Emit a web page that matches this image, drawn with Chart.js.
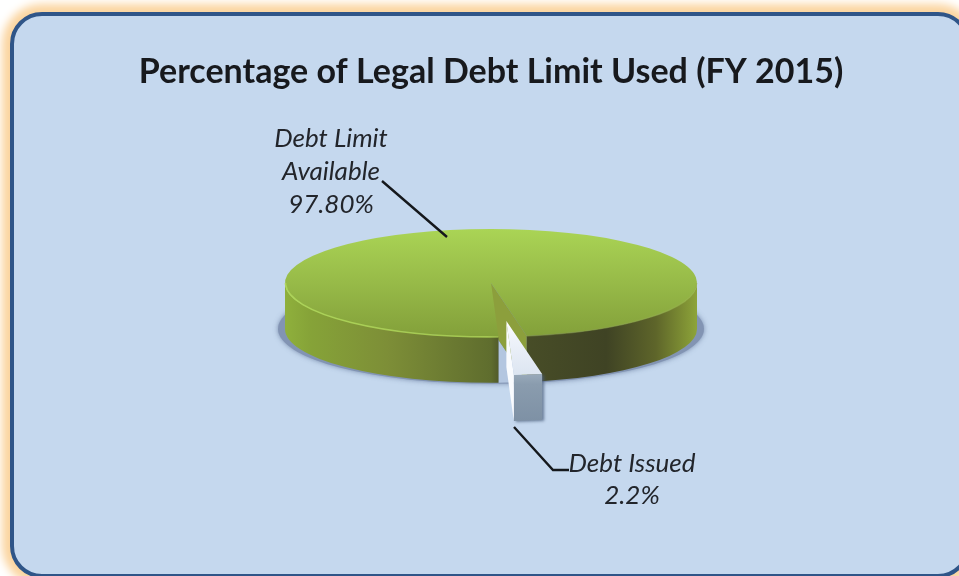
<!DOCTYPE html>
<html>
<head>
<meta charset="utf-8">
<title>Percentage of Legal Debt Limit Used</title>
<script src="https://cdn.jsdelivr.net/npm/chart.js@4"></script>
<style>
  html, body { margin: 0; padding: 0; background: #fff; overflow: hidden; }
  #wrap { position: relative; width: 959px; height: 576px; overflow: hidden; }
  #panel {
    position: absolute; left: 10px; top: 12px; width: 952px; height: 558px;
    border: 4px solid #2f5588; border-radius: 32px; background: #c5d8ee;
    box-shadow: 0 0 9px 8px #fbd5a0;
  }
  canvas { position: absolute; left: 0; top: 0; }
</style>
</head>
<body>
<div id="wrap">
  <div id="panel"></div>
  <canvas id="debtChart" width="959" height="576"></canvas>
</div>
<script>
// Data
const categories = ['Debt Issued', 'Debt Limit Available'];
const percentages = [2.2, 97.8];
const titleText = 'Percentage of Legal Debt Limit Used (FY 2015)';
const issuedLabel = ['Debt Issued', '2.2%'];
const availableLabel = ['Debt Limit', 'Available', '97.80%'];

// Fake 3D settings
const squash = 0.262;
const depth = 46;
const explode = 146;

function topGradient(ctx, y0, y1, stops) {
  const g = ctx.createLinearGradient(0, y0, 0, y1);
  stops.forEach(s => g.addColorStop(s[0], s[1]));
  return g;
}

// screen position of a slice centre; the pie is flattened around baseY
function centerOf(el, baseY) {
  return { x: el.x, y: baseY + (el.y - baseY) * squash };
}

function rim(el, baseY, angle, drop) {
  const c = centerOf(el, baseY);
  return {
    x: c.x + Math.cos(angle) * el.outerRadius,
    y: c.y + drop + Math.sin(angle) * el.outerRadius * squash
  };
}

function wall(ctx, el, baseY, a0, a1, fill) {
  const c = centerOf(el, baseY);
  const rx = el.outerRadius;
  const ry = el.outerRadius * squash;
  ctx.beginPath();
  ctx.ellipse(c.x, c.y, rx, ry, 0, a0, a1);
  ctx.ellipse(c.x, c.y + depth, rx, ry, 0, a1, a0, true);
  ctx.closePath();
  ctx.fillStyle = fill;
  ctx.fill();
}

function poly(ctx, pts, fill) {
  ctx.beginPath();
  pts.forEach((p, i) => i ? ctx.lineTo(p.x, p.y) : ctx.moveTo(p.x, p.y));
  ctx.closePath();
  ctx.fillStyle = fill;
  ctx.fill();
}

const pie3d = {
  id: 'pie3d',
  // the offset option also stretches and narrows a slice, so move it here instead
  afterDatasetsUpdate(chart) {
    const issued = chart.getDatasetMeta(0).data[0];
    const mid = (issued.startAngle + issued.endAngle) / 2;
    issued.x += Math.cos(mid) * explode;
    issued.y += Math.sin(mid) * explode;
  },
  beforeDatasetsDraw(chart) {
    const ctx = chart.ctx;
    const meta = chart.getDatasetMeta(0);
    const issued = meta.data[0];
    const avail = meta.data[1];
    const R = avail.outerRadius;
    const baseY = avail.y;

    // shadow on the panel
    ctx.save();
    ctx.shadowColor = 'rgba(90,110,145,0.7)';
    ctx.shadowBlur = 5;
    ctx.fillStyle = '#8294b3';
    ctx.beginPath();
    ctx.ellipse(avail.x, baseY + depth, R + 7, R * squash + 1, 0, 0, Math.PI * 2);
    ctx.fill();
    ctx.restore();

    // green outer wall
    const side = ctx.createLinearGradient(avail.x - R, 0, avail.x + R, 0);
    side.addColorStop(0, '#8fb03c');
    side.addColorStop(0.06, '#86a338');
    side.addColorStop(0.25, '#7d8e37');
    side.addColorStop(0.5, '#5f6d2e');
    side.addColorStop(0.53, '#4a5028');
    side.addColorStop(0.78, '#3f4324');
    side.addColorStop(0.9, '#5e652a');
    side.addColorStop(0.97, '#7f9134');
    side.addColorStop(1, '#8da43a');

    // floor seen through the gap
    const a = rim(avail, baseY, avail.startAngle, 0);
    const b = rim(avail, baseY, avail.endAngle, 0);
    const aLow = rim(avail, baseY, avail.startAngle, depth);
    const bLow = rim(avail, baseY, avail.endAngle, depth);
    const apex = { x: avail.x, y: baseY };
    const apexLow = { x: avail.x, y: baseY + depth };
    poly(ctx, [apex, a, aLow, bLow, apexLow], '#b3c6e0');

    // cut face of the big slice
    poly(ctx, [apex, b, bLow, apexLow], '#8c9f3c');

    wall(ctx, avail, baseY, avail.startAngle, Math.PI, side);
    wall(ctx, avail, baseY, 0, avail.endAngle - Math.PI * 2, side);

    // exploded slice, front face then left face
    const d = rim(issued, baseY, issued.endAngle, 0);
    const dLow = rim(issued, baseY, issued.endAngle, depth);
    const tip = centerOf(issued, baseY);
    ctx.save();
    ctx.shadowColor = 'rgba(70,90,120,0.7)';
    ctx.shadowBlur = 3;
    ctx.shadowOffsetX = 2;
    ctx.shadowOffsetY = 1;
    const front = ctx.createLinearGradient(0, d.y, 0, d.y + depth);
    front.addColorStop(0, '#98a9ba');
    front.addColorStop(0.2, '#8a9cae');
    front.addColorStop(1, '#7e91a5');
    wall(ctx, issued, baseY, issued.startAngle, issued.endAngle, front);
    ctx.restore();
    poly(ctx, [tip, d, dLow, { x: tip.x, y: tip.y + depth }], '#f9fbfe');

    // everything the library draws from here on is flattened
    ctx.save();
    ctx.translate(avail.x, baseY);
    ctx.scale(1, squash);
    ctx.translate(-avail.x, -baseY);
  },
  afterDatasetsDraw(chart) {
    const ctx = chart.ctx;
    ctx.restore();
    const avail = chart.getDatasetMeta(0).data[1];
    const R = avail.outerRadius;

    // light bevel along the front rim
    const edge = ctx.createLinearGradient(avail.x - R, 0, avail.x + R, 0);
    edge.addColorStop(0, 'rgba(176,216,90,0.9)');
    edge.addColorStop(0.49, 'rgba(168,205,82,0.9)');
    edge.addColorStop(0.6, 'rgba(130,150,60,0.5)');
    edge.addColorStop(1, 'rgba(150,180,70,0.8)');
    ctx.save();
    ctx.strokeStyle = edge;
    ctx.lineWidth = 1.6;
    ctx.beginPath();
    ctx.ellipse(avail.x, avail.y, R - 0.5, R * squash, 0, avail.startAngle, Math.PI);
    ctx.stroke();
    ctx.beginPath();
    ctx.ellipse(avail.x, avail.y, R - 0.5, R * squash, 0, 0, avail.endAngle - Math.PI * 2);
    ctx.stroke();
    ctx.restore();
  },
  afterDraw(chart) {
    const ctx = chart.ctx;
    ctx.save();
    ctx.strokeStyle = '#15181c';
    ctx.lineWidth = 2.4;
    ctx.beginPath();
    ctx.moveTo(382, 181);
    ctx.lineTo(447, 237);
    ctx.moveTo(514, 427);
    ctx.lineTo(553, 470);
    ctx.lineTo(569, 470);
    ctx.stroke();

    ctx.fillStyle = '#22252b';
    ctx.textAlign = 'center';
    ctx.font = 'italic 26px Lato';
    availableLabel.forEach((line, i) => ctx.fillText(line, 331, 147 + i * 33));
    issuedLabel.forEach((line, i) => ctx.fillText(line, 632, 472 + i * 32));
    ctx.restore();
  }
};

new Chart(document.getElementById('debtChart').getContext('2d'), {
  type: 'pie',
  data: {
    labels: categories,
    datasets: [{
      data: percentages,
      borderWidth: 0,
      clip: false,
      backgroundColor: function (c) {
        const area = c.chart.chartArea;
        if (!area) return '#96ba48';
        const cy = (area.top + area.bottom) / 2;
        if (c.dataIndex === 0) {
          return topGradient(c.chart.ctx, cy + explode, cy + explode + 206, [[0, '#ffffff'], [0.35, '#eef2f9'], [1, '#dce5f1']]);
        }
        return topGradient(c.chart.ctx, cy - 206, cy + 206, [[0, '#aad455'], [0.5, '#97ba48'], [1, '#83a03a']]);
      }
    }]
  },
  options: {
    responsive: false,
    animation: false,
    rotation: 170,
    radius: 206,
    cutout: '0%',
    layout: { padding: { left: 23, top: 52, bottom: 103 } },
    plugins: {
      legend: { display: false },
      tooltip: { enabled: false },
      title: {
        display: true,
        text: titleText,
        color: '#17191d',
        padding: 0,
        font: { family: 'Lato', size: 34, weight: 'bold', lineHeight: 1.2 }
      }
    }
  },
  plugins: [pie3d]
});
</script>
</body>
</html>
